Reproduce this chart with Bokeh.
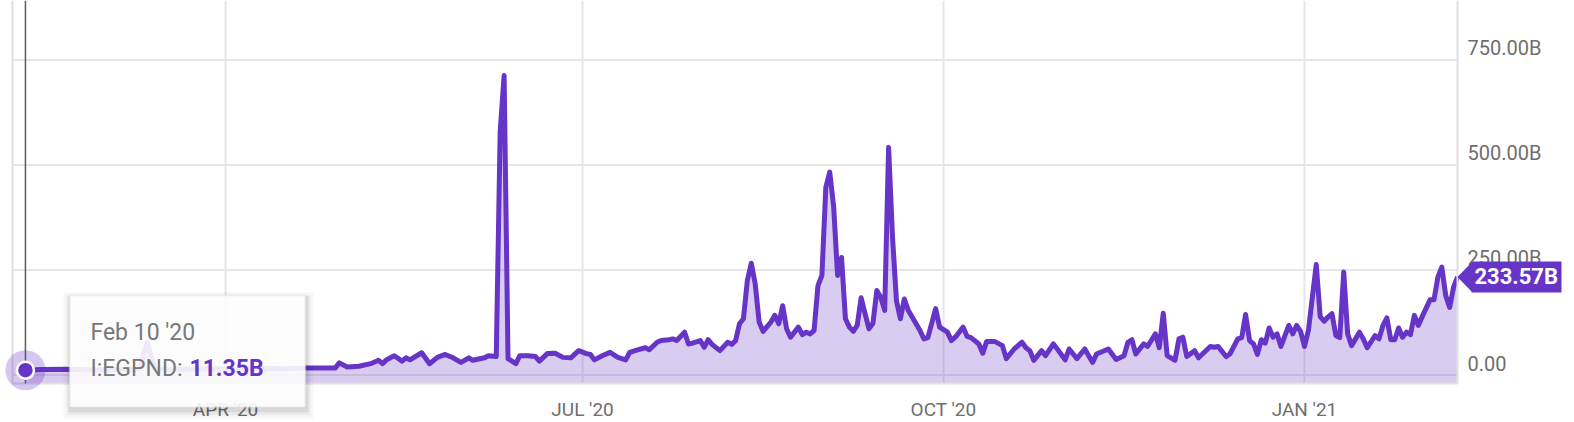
import pandas as pd
from bokeh.plotting import figure
from bokeh.models import Range1d, Label, PolyAnnotation, BoxAnnotation, ColumnDataSource, Grid
from bokeh.embed import file_html
from bokeh.resources import INLINE

# ---------------- data (values in billions) ----------------
series_name = "I:EGPND"
dates = [
    "2020-02-10", "2020-02-14", "2020-02-20", "2020-02-27", "2020-03-05", "2020-03-10", "2020-03-12",
    "2020-03-14", "2020-03-20", "2020-03-27", "2020-04-03", "2020-04-10", "2020-04-16", "2020-04-21",
    "2020-04-29", "2020-04-30", "2020-05-02", "2020-05-05", "2020-05-08", "2020-05-10", "2020-05-11",
    "2020-05-12", "2020-05-14", "2020-05-16", "2020-05-17", "2020-05-18", "2020-05-21", "2020-05-23",
    "2020-05-25", "2020-05-27", "2020-05-29", "2020-05-31", "2020-06-02", "2020-06-03", "2020-06-06",
    "2020-06-07", "2020-06-09", "2020-06-10", "2020-06-11", "2020-06-12", "2020-06-14", "2020-06-15",
    "2020-06-17", "2020-06-19", "2020-06-20", "2020-06-22", "2020-06-24", "2020-06-26", "2020-06-28",
    "2020-06-30", "2020-07-02", "2020-07-03", "2020-07-04", "2020-07-06", "2020-07-08", "2020-07-10",
    "2020-07-12", "2020-07-13", "2020-07-15", "2020-07-17", "2020-07-18", "2020-07-20", "2020-07-21",
    "2020-07-23", "2020-07-24", "2020-07-25", "2020-07-27", "2020-07-28", "2020-07-29", "2020-07-31",
    "2020-08-01", "2020-08-02", "2020-08-03", "2020-08-05", "2020-08-07", "2020-08-08", "2020-08-09",
    "2020-08-10", "2020-08-11", "2020-08-12", "2020-08-13", "2020-08-14", "2020-08-15", "2020-08-16",
    "2020-08-18", "2020-08-19", "2020-08-20", "2020-08-21", "2020-08-22", "2020-08-23", "2020-08-25",
    "2020-08-26", "2020-08-27", "2020-08-28", "2020-08-29", "2020-08-30", "2020-08-31", "2020-09-01",
    "2020-09-02", "2020-09-03", "2020-09-04", "2020-09-05", "2020-09-06", "2020-09-07", "2020-09-08",
    "2020-09-09", "2020-09-10", "2020-09-11", "2020-09-12", "2020-09-13", "2020-09-14", "2020-09-15",
    "2020-09-16", "2020-09-17", "2020-09-18", "2020-09-19", "2020-09-20", "2020-09-21", "2020-09-22",
    "2020-09-24", "2020-09-25", "2020-09-26", "2020-09-27", "2020-09-29", "2020-09-30", "2020-10-02",
    "2020-10-03", "2020-10-04", "2020-10-06", "2020-10-07", "2020-10-08", "2020-10-10", "2020-10-11",
    "2020-10-12", "2020-10-14", "2020-10-16", "2020-10-17", "2020-10-19", "2020-10-21", "2020-10-22",
    "2020-10-23", "2020-10-24", "2020-10-26", "2020-10-27", "2020-10-29", "2020-10-30", "2020-11-01",
    "2020-11-02", "2020-11-04", "2020-11-06", "2020-11-08", "2020-11-09", "2020-11-12", "2020-11-14",
    "2020-11-16", "2020-11-17", "2020-11-18", "2020-11-19", "2020-11-21", "2020-11-22", "2020-11-24",
    "2020-11-25", "2020-11-26", "2020-11-27", "2020-11-29", "2020-11-30", "2020-12-01", "2020-12-02",
    "2020-12-04", "2020-12-05", "2020-12-08", "2020-12-09", "2020-12-10", "2020-12-12", "2020-12-13",
    "2020-12-15", "2020-12-16", "2020-12-17", "2020-12-18", "2020-12-19", "2020-12-20", "2020-12-21",
    "2020-12-22", "2020-12-23", "2020-12-24", "2020-12-25", "2020-12-26", "2020-12-28", "2020-12-29",
    "2020-12-30", "2020-12-31", "2021-01-01", "2021-01-02", "2021-01-04", "2021-01-05", "2021-01-06",
    "2021-01-07", "2021-01-08", "2021-01-09", "2021-01-10", "2021-01-11", "2021-01-12", "2021-01-13",
    "2021-01-15", "2021-01-16", "2021-01-17", "2021-01-19", "2021-01-20", "2021-01-21", "2021-01-22",
    "2021-01-23", "2021-01-24", "2021-01-25", "2021-01-26", "2021-01-27", "2021-01-28", "2021-01-29",
    "2021-01-30", "2021-01-31", "2021-02-02", "2021-02-03", "2021-02-04", "2021-02-05", "2021-02-06",
    "2021-02-07", "2021-02-08", "2021-02-09",
]
values = [
    11.35, 13, 14, 12, 13, 14, 78,
    13, 14, 15, 14, 16, 15, 17,
    17, 29, 19, 21, 27, 35, 27,
    36, 46, 33, 41, 36, 53, 27,
    42, 49, 41, 30, 41, 35, 41,
    46, 44, 580, 713, 39, 27, 46,
    46, 44, 33, 51, 52, 42, 41,
    58, 51, 49, 36, 46, 54, 42,
    36, 54, 60, 65, 60, 78, 82,
    84, 86, 82, 102, 74, 76, 82,
    66, 84, 73, 58, 78, 73, 82,
    122, 134, 225, 266, 217, 126, 104,
    126, 142, 122, 165, 110, 90, 114,
    96, 102, 98, 106, 213, 237, 447,
    483, 400, 237, 280, 134, 114, 104,
    118, 184, 146, 110, 123, 201, 185,
    154, 542, 328, 177, 134, 181, 154,
    122, 106, 86, 89, 158, 114, 102,
    82, 90, 114, 92, 89, 74, 52,
    80, 80, 70, 39, 62, 78, 65,
    58, 35, 58, 46, 74, 62, 36,
    62, 39, 62, 30, 50, 62, 37,
    46, 78, 84, 50, 74, 68, 98,
    65, 147, 46, 35, 86, 90, 44,
    58, 41, 68, 66, 68, 44, 50,
    86, 89, 144, 82, 74, 49, 84,
    76, 112, 90, 98, 68, 118, 98,
    118, 104, 68, 106, 263, 139, 128,
    138, 146, 94, 89, 245, 98, 70,
    102, 86, 65, 94, 86, 118, 136,
    84, 84, 112, 90, 102, 96, 142,
    118, 139, 179, 179, 233, 257, 189,
    161, 209, 233.57,
]
x_tick_dates = ["2020-04-01", "2020-07-01", "2020-10-01", "2021-01-01"]
x_tick_labels = ["APR '20", "JUL '20", "OCT '20", "JAN '21"]
y_ticks = [0, 250, 500, 750]
y_tick_labels = ["0.00", "250.00B", "500.00B", "750.00B"]

# ---------------- styling / layout ----------------
PURPLE = "#6634c7"
GRID = "#e6e6e6"
BORDER = "#e0e0e0"
TEXT = "#6e6e6e"
FONT = "Roboto"
W, H = 1574, 422
PLOT_L, PLOT_R, PLOT_B = 12, 1457, 383        # plotting area in canvas pixels (top = 0)

dt = pd.to_datetime(dates)
src = ColumnDataSource(dict(date=dt, value=values))

x_start = dt[0] - pd.Timedelta(days=3.3)
x_end = dt[-1]
y_bottom, y_top = -20.2, 891.7                 # value at plot bottom / canvas top

ms_per_px = (x_end - x_start).total_seconds() * 1000 / (PLOT_R - PLOT_L)
u_per_px = (y_top - y_bottom) / PLOT_B
xs_ms = x_start.value / 1e6
xe_ms = x_end.value / 1e6

p = figure(width=W, height=H, x_axis_type="datetime",
           x_axis_location=None, y_axis_location=None,
           x_range=Range1d(xs_ms - PLOT_L * ms_per_px, xe_ms + (W - PLOT_R) * ms_per_px),
           y_range=Range1d(y_bottom - (H - PLOT_B) * u_per_px, y_top),
           min_border=0, output_backend="svg", toolbar_location=None,
           background_fill_color="white", border_fill_color="white",
           outline_line_color=None)
p.center = [r for r in p.center if not isinstance(r, Grid)]

# grid lines limited to the plotting area
tick_ms = [pd.Timestamp(d).value / 1e6 for d in x_tick_dates]
p.segment(x0=tick_ms, y0=[y_bottom] * len(tick_ms), x1=tick_ms, y1=[y_top] * len(tick_ms),
          line_color=GRID, line_width=2)
p.segment(x0=[xs_ms] * len(y_ticks), y0=y_ticks, x1=[xe_ms] * len(y_ticks), y1=y_ticks,
          line_color=GRID, line_width=2)

# area + line
p.varea(x="date", y1=y_bottom, y2="value", source=src, fill_color=PURPLE, fill_alpha=0.25)
p.line(x="date", y="value", source=src, line_color=PURPLE, line_width=5, line_join="round")

# plot-area borders (left, right, bottom)
p.segment(x0=[xs_ms, xe_ms, xs_ms], y0=[y_bottom, y_bottom, y_bottom],
          x1=[xs_ms, xe_ms, xe_ms], y1=[y_top, y_top, y_bottom],
          line_color=BORDER, line_width=2)

# crosshair + hover marker at first point
t0_ms = dt[0].value / 1e6
v0 = values[0]
p.segment(x0=[t0_ms], y0=[y_bottom], x1=[t0_ms], y1=[y_top], line_color="#5c5c5c", line_width=1.5)
p.scatter(x=[t0_ms], y=[v0], size=40, fill_color=PURPLE, fill_alpha=0.28, line_color=None)
p.scatter(x=[t0_ms], y=[v0], size=17, fill_color=PURPLE, line_color="white", line_width=2.5)

# x tick labels
for t, lab in zip(tick_ms, x_tick_labels):
    p.add_layout(Label(x=t, y=y_bottom, y_offset=-26, text=lab, text_font=FONT,
                       text_font_size="19px", text_color=TEXT,
                       text_align="center", text_baseline="middle"))

# y tick labels (right side, above gridlines)
for v, lab in zip(y_ticks, y_tick_labels):
    p.add_layout(Label(x=xe_ms, y=v, x_offset=10, y_offset=12, text=lab, text_font=FONT,
                       text_font_size="20px", text_color=TEXT,
                       text_align="left", text_baseline="middle"))

# tooltip anchored at the hovered point
TIP_DX, TIP_W, TIP_UP, TIP_H = 44, 236, 75, 112
def tip_box(dx=0, dy=0, grow=0, **kw):
    return BoxAnnotation(left=t0_ms + (TIP_DX + dx - grow) * ms_per_px,
                         right=t0_ms + (TIP_DX + TIP_W + dx + grow) * ms_per_px,
                         top=v0 + (TIP_UP - dy + grow) * u_per_px,
                         bottom=v0 + (TIP_UP - TIP_H - dy - grow) * u_per_px, **kw)
for dx, dy, grow, a in [(1, 4, 7, 0.03), (1, 4, 4, 0.05), (1, 3, 2, 0.07)]:
    p.add_layout(tip_box(dx, dy, grow, fill_color="black", fill_alpha=a, line_alpha=0))
p.add_layout(tip_box(fill_color="white", fill_alpha=0.9, line_color="#cfcfcf", line_width=2))

date_txt = f"{dt[0]:%b} {dt[0].day} '{dt[0]:%y}"
p.add_layout(Label(x=t0_ms, y=v0, x_offset=65, y_offset=38, text=date_txt,
                   text_font=FONT, text_font_size="23px", text_color="#777777",
                   text_align="left", text_baseline="middle"))
p.add_layout(Label(x=t0_ms, y=v0, x_offset=65, y_offset=2, text=f"{series_name}:",
                   text_font=FONT, text_font_size="23px", text_color="#777777",
                   text_align="left", text_baseline="middle"))
p.add_layout(Label(x=t0_ms, y=v0, x_offset=164, y_offset=2, text=f"{v0:.2f}B",
                   text_font=FONT, text_font_size="23px", text_color=PURPLE, text_font_style="bold",
                   text_align="left", text_baseline="middle"))

# last-value badge with arrow
last = values[-1]
p.add_layout(BoxAnnotation(left=xe_ms + 14 * ms_per_px, right=xe_ms + 104 * ms_per_px,
                           top=last + 15.5 * u_per_px, bottom=last - 15.5 * u_per_px,
                           fill_color=PURPLE, fill_alpha=1, line_alpha=0))
p.add_layout(PolyAnnotation(xs=[xe_ms, xe_ms + 15 * ms_per_px, xe_ms + 15 * ms_per_px],
                            ys=[last, last + 15.5 * u_per_px, last - 15.5 * u_per_px],
                            xs_units="data", ys_units="data",
                            fill_color=PURPLE, fill_alpha=1, line_alpha=0))
p.add_layout(Label(x=xe_ms, y=last, x_offset=17, text=f"{last:.2f}B", text_font=FONT,
                   text_font_size="22px", text_font_style="bold", text_color="white",
                   text_align="left", text_baseline="middle"))

open("out.html", "w").write(file_html(p, INLINE))
